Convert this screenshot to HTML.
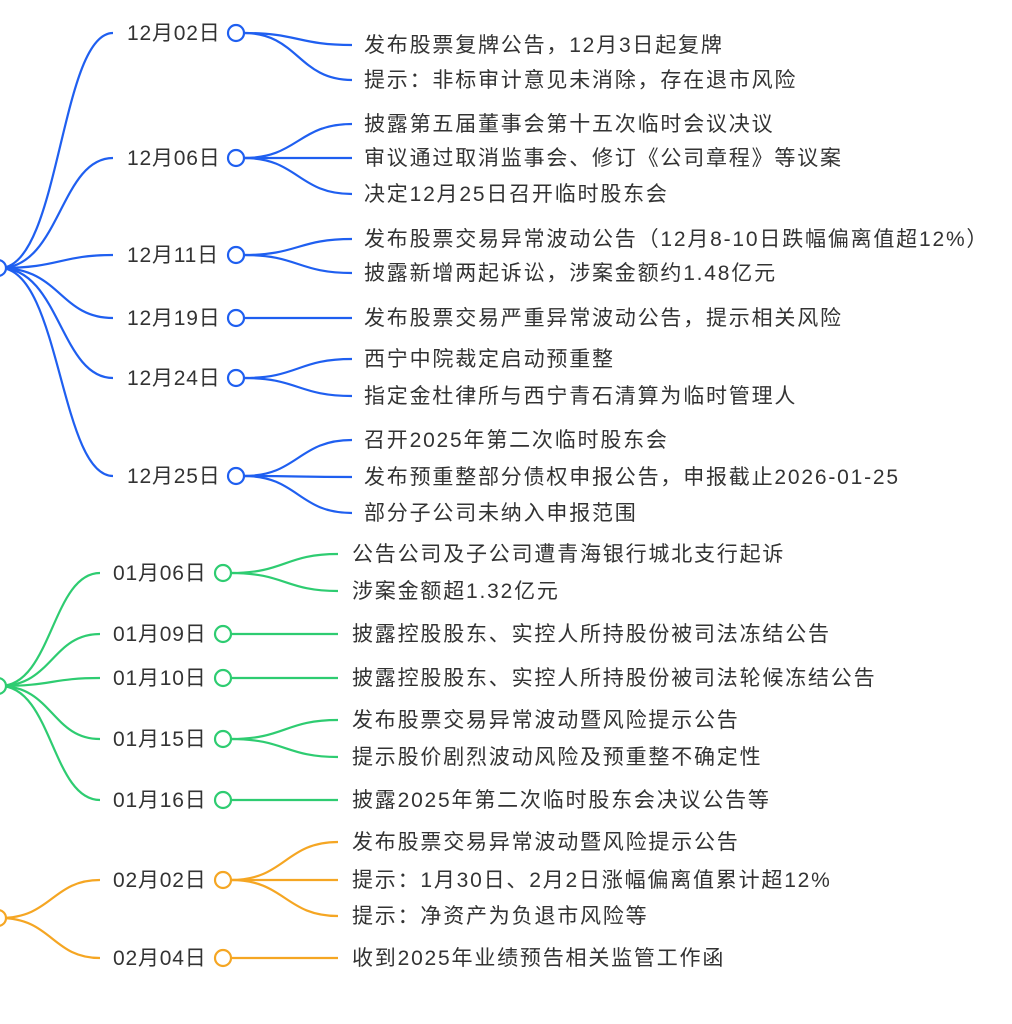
<!DOCTYPE html>
<html><head><meta charset="utf-8"><style>
html,body{margin:0;padding:0;background:#fff;width:1012px;height:1024px;overflow:hidden}
svg text{font-family:"Liberation Sans","Noto Sans CJK SC",sans-serif;font-size:21px;fill:#333;letter-spacing:1.8px}
svg g.d text{letter-spacing:0.8px}
</style></head><body>
<svg width="1012" height="1024" viewBox="0 0 1012 1024" xmlns="http://www.w3.org/2000/svg">
<g fill="none" stroke="#1f5ff0" stroke-width="2.2">
<path d="M0 268 C60 268,60 33,113 33"/><path d="M0 268 C60 268,60 158,113 158"/>
<path d="M0 268 C60 268,60 255,113 255"/><path d="M0 268 C60 268,60 318,113 318"/>
<path d="M0 268 C60 268,60 378,113 378"/><path d="M0 268 C60 268,60 476,113 476"/>
<path d="M244 33 C298 33,298 45,352 45"/><path d="M244 33 C298 33,298 80,352 80"/>
<path d="M244 158 C298 158,298 124,352 124"/><path d="M244 158 L352 158"/><path d="M244 158 C298 158,298 194,352 194"/>
<path d="M244 255 C298 255,298 239,352 239"/><path d="M244 255 C298 255,298 273,352 273"/>
<path d="M244 318 L352 318"/>
<path d="M244 378 C298 378,298 359,352 359"/><path d="M244 378 C298 378,298 396,352 396"/>
<path d="M244 476 C298 476,298 440,352 440"/><path d="M244 476 C298 476,298 477,352 477"/><path d="M244 476 C298 476,298 513,352 513"/>
</g>
<g fill="#fff" stroke="#1f5ff0" stroke-width="2.2">
<circle cx="-2" cy="268" r="8"/>
<circle cx="236" cy="33" r="8"/><circle cx="236" cy="158" r="8"/><circle cx="236" cy="255" r="8"/>
<circle cx="236" cy="318" r="8"/><circle cx="236" cy="378" r="8"/><circle cx="236" cy="476" r="8"/>
</g>
<g fill="none" stroke="#2ecc71" stroke-width="2.2">
<path d="M0 686 C52 686,52 573,100 573"/><path d="M0 686 C52 686,52 634,100 634"/>
<path d="M0 686 C52 686,52 678,100 678"/><path d="M0 686 C52 686,52 739,100 739"/>
<path d="M0 686 C52 686,52 800,100 800"/>
<path d="M231 573 C285 573,285 554,338 554"/><path d="M231 573 C285 573,285 591,338 591"/>
<path d="M231 634 L338 634"/><path d="M231 678 L338 678"/>
<path d="M231 739 C285 739,285 720,338 720"/><path d="M231 739 C285 739,285 757,338 757"/>
<path d="M231 800 L338 800"/>
</g>
<g fill="#fff" stroke="#2ecc71" stroke-width="2.2">
<circle cx="-2" cy="686" r="8"/>
<circle cx="223" cy="573" r="8"/><circle cx="223" cy="634" r="8"/><circle cx="223" cy="678" r="8"/>
<circle cx="223" cy="739" r="8"/><circle cx="223" cy="800" r="8"/>
</g>
<g fill="none" stroke="#f5a623" stroke-width="2.2">
<path d="M0 918 C52 918,52 880,100 880"/><path d="M0 918 C52 918,52 958,100 958"/>
<path d="M231 880 C285 880,285 842,338 842"/><path d="M231 880 L338 880"/><path d="M231 880 C285 880,285 916,338 916"/>
<path d="M231 958 L338 958"/>
</g>
<g fill="#fff" stroke="#f5a623" stroke-width="2.2">
<circle cx="-2" cy="918" r="8"/>
<circle cx="223" cy="880" r="8"/><circle cx="223" cy="958" r="8"/>
</g>
<g class="d">
<text x="127" y="40">12月02日</text><text x="127" y="165">12月06日</text><text x="127" y="262">12月11日</text>
<text x="127" y="325">12月19日</text><text x="127" y="385">12月24日</text><text x="127" y="483">12月25日</text>
<text x="113" y="580">01月06日</text><text x="113" y="641">01月09日</text><text x="113" y="685">01月10日</text>
<text x="113" y="746">01月15日</text><text x="113" y="807">01月16日</text>
<text x="113" y="887">02月02日</text><text x="113" y="965">02月04日</text>
</g>
<g>
<text x="364" y="52">发布股票复牌公告，12月3日起复牌</text>
<text x="364" y="87">提示：非标审计意见未消除，存在退市风险</text>
<text x="364" y="131">披露第五届董事会第十五次临时会议决议</text>
<text x="364" y="165">审议通过取消监事会、修订《公司章程》等议案</text>
<text x="364" y="201">决定12月25日召开临时股东会</text>
<text x="364" y="246">发布股票交易异常波动公告（12月8-10日跌幅偏离值超12%）</text>
<text x="364" y="280">披露新增两起诉讼，涉案金额约1.48亿元</text>
<text x="364" y="325">发布股票交易严重异常波动公告，提示相关风险</text>
<text x="364" y="366">西宁中院裁定启动预重整</text>
<text x="364" y="403">指定金杜律所与西宁青石清算为临时管理人</text>
<text x="364" y="447">召开2025年第二次临时股东会</text>
<text x="364" y="484">发布预重整部分债权申报公告，申报截止2026-01-25</text>
<text x="364" y="520">部分子公司未纳入申报范围</text>
<text x="352" y="561">公告公司及子公司遭青海银行城北支行起诉</text>
<text x="352" y="598">涉案金额超1.32亿元</text>
<text x="352" y="641">披露控股股东、实控人所持股份被司法冻结公告</text>
<text x="352" y="685">披露控股股东、实控人所持股份被司法轮候冻结公告</text>
<text x="352" y="727">发布股票交易异常波动暨风险提示公告</text>
<text x="352" y="764">提示股价剧烈波动风险及预重整不确定性</text>
<text x="352" y="807">披露2025年第二次临时股东会决议公告等</text>
<text x="352" y="849">发布股票交易异常波动暨风险提示公告</text>
<text x="352" y="887">提示：1月30日、2月2日涨幅偏离值累计超12%</text>
<text x="352" y="923">提示：净资产为负退市风险等</text>
<text x="352" y="965">收到2025年业绩预告相关监管工作函</text>
</g>
</svg>
</body></html>
